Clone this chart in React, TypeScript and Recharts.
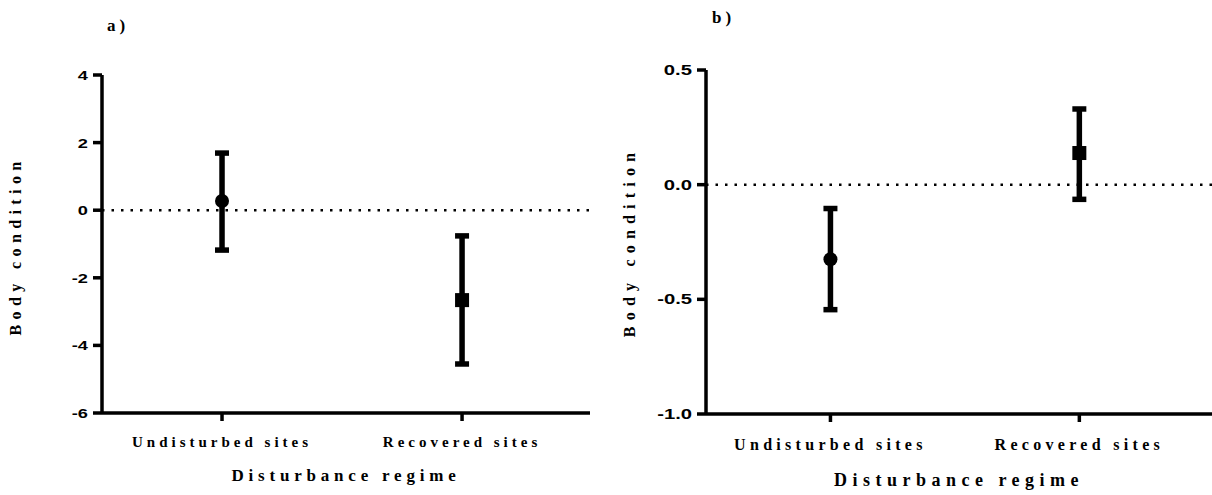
import React from 'react';
import { ScatterChart, Scatter, XAxis, YAxis, ErrorBar, ReferenceLine, Label } from 'recharts';

const categories = ['Undisturbed sites', 'Recovered sites'];

// panel a
const meanA = [0.27, -2.66];
const lowA = [-1.18, -4.55];
const highA = [1.69, -0.76];
const ticksA = [-6, -4, -2, 0, 2, 4];

// panel b
const meanB = [-0.325, 0.138];
const lowB = [-0.545, -0.064];
const highB = [-0.104, 0.33];
const ticksB = [-1, -0.5, 0, 0.5];

const SERIF = '"Liberation Serif", "Times New Roman", serif';
const SANS = '"Liberation Sans", Arial, sans-serif';

const buildRows = (mean: number[], low: number[], high: number[]) =>
  categories.map((name, i) => ({
    x: i,
    name,
    mean: mean[i],
    err: [mean[i] - low[i], high[i] - mean[i]],
  }));

const Marker = (props: any) => {
  const { cx, cy, payload } = props;
  if (cx == null || cy == null) return null;
  if (payload.x === 0) return <circle cx={cx} cy={cy} r={7} fill="#000" />;
  return <rect x={cx - 7} y={cy - 7} width={14} height={14} fill="#000" />;
};

const NumTick = (props: any) => {
  const { x, y, payload, fontSize, digits } = props;
  return (
    <text
      transform={`translate(${x},${y}) scale(1.35,1)`}
      textAnchor="end"
      dominantBaseline="central"
      fontFamily={SANS}
      fontWeight="bold"
      fontSize={fontSize}
      fill="#000"
    >
      {digits ? Number(payload.value).toFixed(digits) : payload.value}
    </text>
  );
};

const CatTick = (props: any) => {
  const { x, y, payload, fontSize, spacing, shift } = props;
  return (
    <text
      x={x}
      y={y + shift}
      textAnchor="middle"
      dominantBaseline="central"
      fontFamily={SERIF}
      fontWeight="bold"
      fontSize={fontSize}
      letterSpacing={spacing}
      fill="#000"
    >
      {categories[payload.value]}
    </text>
  );
};

interface PanelProps {
  rows: any[];
  ticks: number[];
  domain: [number, number];
  width: number;
  top: number;
  axisH: number;
  yAxisW: number;
  right: number;
  tickFont: number;
  digits: number;
  catFont: number;
  catSpacing: number;
  catShift: number;
  titleFont: number;
  titleSpacing: number;
  titleOffset: number;
  yTitleX: number;
  yTitleY: number;
  yTitleSpacing: number;
}

const Panel = (p: PanelProps) => {
  const axisStyle = { stroke: '#000', strokeWidth: 3.5 };
  return (
    <ScatterChart width={p.width} height={495} margin={{ top: p.top, right: p.right, bottom: 0, left: 0 }}>
      <XAxis
        type="number"
        dataKey="x"
        domain={[-0.5, 1.533]}
        ticks={[0, 1]}
        allowDataOverflow
        height={p.axisH}
        axisLine={axisStyle}
        tickLine={axisStyle}
        tickSize={8}
        tick={<CatTick fontSize={p.catFont} spacing={p.catSpacing} shift={p.catShift} />}
      >
        <Label
          value="Disturbance regime"
          position="insideBottom"
          offset={p.titleOffset}
          style={{ fontFamily: SERIF, fontWeight: 'bold', fontSize: p.titleFont, letterSpacing: p.titleSpacing, fill: '#000' }}
        />
      </XAxis>
      <YAxis
        type="number"
        dataKey="mean"
        domain={p.domain}
        ticks={p.ticks}
        allowDataOverflow
        width={p.yAxisW}
        axisLine={axisStyle}
        tickLine={axisStyle}
        tickSize={9}
        tickMargin={5}
        tick={<NumTick fontSize={p.tickFont} digits={p.digits} />}
      >
        <Label
          content={() => (
            <text
              x={p.yTitleX}
              y={p.yTitleY}
              transform={`rotate(-90 ${p.yTitleX} ${p.yTitleY})`}
              textAnchor="middle"
              dominantBaseline="central"
              fontFamily={SERIF}
              fontWeight="bold"
              fontSize={16}
              letterSpacing={p.yTitleSpacing}
              fill="#000"
            >
              Body condition
            </text>
          )}
        />
      </YAxis>
      <ReferenceLine y={0} stroke="#000" strokeWidth={2.5} strokeDasharray="2.5 7" />
      <Scatter data={p.rows} fill="#000" shape={<Marker />} isAnimationActive={false}>
        <ErrorBar dataKey="err" direction="y" width={7} strokeWidth={5.5} stroke="#000" />
      </Scatter>
    </ScatterChart>
  );
};

export default function App() {
  const letter: React.CSSProperties = {
    position: 'absolute',
    fontFamily: SERIF,
    fontWeight: 'bold',
    fontSize: 17,
    lineHeight: '20px',
    letterSpacing: 4,
  };
  return (
    <div style={{ position: 'fixed', left: 0, top: 0, width: 1212, height: 495, background: '#fff', overflow: 'hidden' }}>
      <div style={{ position: 'absolute', left: 0, top: 0 }}>
        <Panel
          rows={buildRows(meanA, lowA, highA)}
          ticks={ticksA}
          domain={[-6, 4]}
          width={600}
          top={75}
          axisH={82}
          yAxisW={102}
          right={10}
          tickFont={13.5}
          digits={0}
          catFont={15}
          catSpacing={4}
          catShift={19}
          titleFont={17}
          titleSpacing={4.8}
          titleOffset={14}
          yTitleX={15}
          yTitleY={246}
          yTitleSpacing={5.4}
        />
      </div>
      <div style={{ position: 'absolute', left: 600, top: 0 }}>
        <Panel
          rows={buildRows(meanB, lowB, highB)}
          ticks={ticksB}
          domain={[-1, 0.5]}
          width={612}
          top={70}
          axisH={81}
          yAxisW={106}
          right={0}
          tickFont={15}
          digits={1}
          catFont={16}
          catSpacing={4.3}
          catShift={20}
          titleFont={18}
          titleSpacing={5.5}
          titleOffset={9}
          yTitleX={29}
          yTitleY={242}
          yTitleSpacing={6.2}
        />
      </div>
      <div style={{ ...letter, left: 107, top: 16 }}>a)</div>
      <div style={{ ...letter, left: 712, top: 8 }}>b)</div>
    </div>
  );
}
